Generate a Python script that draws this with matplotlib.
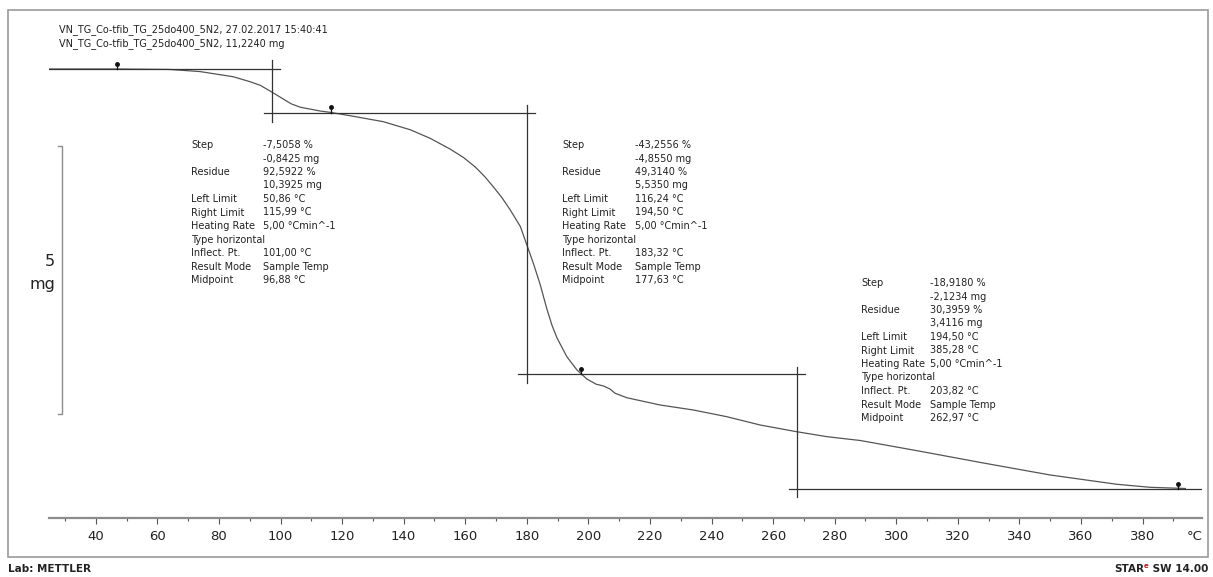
import matplotlib
matplotlib.use("Agg")
import matplotlib.pyplot as plt
from matplotlib.patches import Rectangle

# TGA curve, sample temperature (°C) vs. mass (mg)
temp = [24.8, 46.9, 64.1, 73.9, 84.6, 90.1, 93.4, 96.6, 100.9, 103.5, 106.4,
        112.9, 116.1, 122.6, 133.3, 142.1, 148.6, 155.1, 159.5, 163.2, 166.3,
        169.1, 172.0, 174.6, 177.9, 180.0, 182.1, 184.3, 186.5, 188.2, 189.8,
        193.0, 196.3, 199.5, 202.5, 205.0, 207.0, 208.7, 212.5, 223.3, 234.1,
        245.0, 255.8, 267.6, 277.5, 288.3, 306.7, 328.3, 350.0, 371.7, 382.5,
        393.9]
mass = [11.218, 11.218, 11.21, 11.17, 11.075, 10.982, 10.915, 10.81, 10.66,
        10.57, 10.508, 10.437, 10.413, 10.35, 10.24, 10.09, 9.93, 9.73, 9.57,
        9.40, 9.22, 9.03, 8.82, 8.60, 8.29, 7.95, 7.61, 7.22, 6.76, 6.45, 6.22,
        5.87, 5.623, 5.456, 5.36, 5.325, 5.27, 5.19, 5.108, 4.973, 4.88,
        4.755, 4.601, 4.477, 4.384, 4.313, 4.124, 3.895, 3.672, 3.499, 3.443,
        3.421]

# step evaluation construction lines
levels = [11.218, 10.406, 5.544, 3.4116]
level_from = [24.8, 94.5, 177.0, 265.0]
level_to = [99.9, 182.7, 270.4, 399.8]
vline_t = [97.3, 180.0, 267.6]
vline_top = [11.385, 10.549, 5.685]
vline_bot = [10.239, 5.376, 3.268]
limit_t = [47.0, 116.3, 197.7, 391.6]
limit_m = [11.218, 10.406, 5.544, 3.4116]

step_labels = ["Step", "", "Residue", "", "Left Limit", "Right Limit",
               "Heating Rate", "Type horizontal", "Inflect. Pt.",
               "Result Mode", "Midpoint"]
step_values = [
    ["-7,5058 %", "-0,8425 mg", "92,5922 %", "10,3925 mg", "50,86 °C",
     "115,99 °C", "5,00 °Cmin^-1", "", "101,00 °C", "Sample Temp", "96,88 °C"],
    ["-43,2556 %", "-4,8550 mg", "49,3140 %", "5,5350 mg", "116,24 °C",
     "194,50 °C", "5,00 °Cmin^-1", "", "183,32 °C", "Sample Temp", "177,63 °C"],
    ["-18,9180 %", "-2,1234 mg", "30,3959 %", "3,4116 mg", "194,50 °C",
     "385,28 °C", "5,00 °Cmin^-1", "", "203,82 °C", "Sample Temp", "262,97 °C"],
]
block_pos = [(191, 263, 145), (562, 635, 145), (861, 930, 283)]

W, H = 1213, 577
fig = plt.figure(figsize=(W / 100, H / 100), dpi=100)


def px(x, y):
    return x / W, 1 - y / H


fig.patches.append(Rectangle(px(8, 557), 1200 / W, 547 / H, transform=fig.transFigure,
                             fill=False, edgecolor="#9a9a9a", lw=1.2))

l, b = px(49, 518)
r, t = px(1202, 10)
ax = fig.add_axes([l, b, r - l, t - b])
ax.set_xlim(24.8, 399.3)
ax.set_ylim(2.8726, 12.315)
for s in ["top", "right", "left"]:
    ax.spines[s].set_visible(False)
ax.spines["bottom"].set_color("#8c8c8c")
ax.spines["bottom"].set_linewidth(1.6)
ax.set_yticks([])
ax.set_xticks(range(40, 381, 20))
ax.set_xticks([v for v in range(30, 400, 10) if v % 20 != 0], minor=True)
ax.tick_params(axis="x", which="major", length=4, width=0.8, color="#555555",
               labelsize=9.5, pad=5, labelcolor="#222222")
ax.tick_params(axis="x", which="minor", length=2.5, width=0.8, color="#555555")
ax.patch.set_alpha(0)

ax.plot(temp, mass, color="#555555", lw=0.9)

for lev, a, z in zip(levels, level_from, level_to):
    ax.plot([a, z], [lev, lev], color="#333333", lw=0.9)
for vt, top, bot in zip(vline_t, vline_top, vline_bot):
    ax.plot([vt, vt], [top, bot], color="#333333", lw=0.9)
for lt, lm in zip(limit_t, limit_m):
    ax.plot([lt, lt], [lm, lm + 0.1], color="#111111", lw=0.9)
    ax.plot([lt], [lm + 0.1], "o", color="#111111", ms=2.5)

# 5 mg scale bar
ax.plot([27.8, 29.05, 29.05, 27.8], [9.79, 9.79, 4.80, 4.80], color="#8c8c8c", lw=1.0)
fig.text(*px(55, 262), "5", ha="right", va="center", fontsize=11.5, color="#222222")
fig.text(*px(55, 284), "mg", ha="right", va="center", fontsize=11.5, color="#222222")

fig.text(*px(59, 30), "VN_TG_Co-tfib_TG_25do400_5N2, 27.02.2017 15:40:41",
         fontsize=7, va="center", color="#222222")
fig.text(*px(59, 44), "VN_TG_Co-tfib_TG_25do400_5N2, 11,2240 mg",
         fontsize=7, va="center", color="#222222")

for (xl, xv, y0), vals in zip(block_pos, step_values):
    for i, (lab, val) in enumerate(zip(step_labels, vals)):
        yy = y0 + i * 13.5
        if lab:
            fig.text(*px(xl, yy), lab, fontsize=7, va="center", color="#222222")
        if val:
            fig.text(*px(xv, yy), val, fontsize=7, va="center", color="#222222")

fig.text(*px(1195, 537), "°C", ha="center", va="center", fontsize=9.5, color="#222222")
fig.text(*px(8, 569), "Lab: METTLER", fontsize=7.5, fontweight="bold", va="center",
         color="#222222")

fig.canvas.draw()
rend = fig.canvas.get_renderer()
t1 = fig.text(*px(1208, 569), " SW 14.00", fontsize=7.5, fontweight="bold",
              ha="right", va="center", color="#222222")
x1 = t1.get_window_extent(rend).x0
t2 = fig.text(x1 / W, 1 - 566 / H, "e", fontsize=5, fontweight="bold",
              ha="right", va="center", color="#d01010")
x2 = t2.get_window_extent(rend).x0
fig.text(x2 / W, 1 - 569 / H, "STAR", fontsize=7.5, fontweight="bold",
         ha="right", va="center", color="#222222")

fig.savefig("out.png", dpi=100)
